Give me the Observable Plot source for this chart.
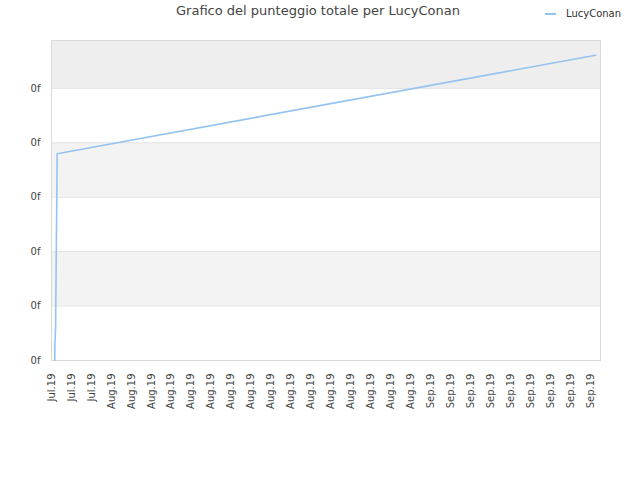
<!DOCTYPE html>
<html>
<head>
<meta charset="utf-8">
<script src="https://cdn.jsdelivr.net/npm/d3@7"></script>
<script src="https://cdn.jsdelivr.net/npm/@observablehq/plot@0.6"></script>
<style>
  html, body { margin: 0; padding: 0; background: #fff; }
  #wrap { position: relative; width: 640px; height: 480px; font-family: "DejaVu Sans", sans-serif; }
  #title { position: absolute; left: 0; width: 636px; top: 3px; text-align: center; font-size: 13px; color: #444; }
  #legend { position: absolute; left: 545px; top: 8px; font-size: 10px; color: #333; display: flex; align-items: center; }
  #legend .sw { width: 11px; height: 0; border-top: 2px solid #95c3f0; margin-right: 10px; }
  svg { position: absolute; left: 0; top: 0; }
</style>
</head>
<body>
<div id="wrap">
  <div id="chart"></div>
  <div id="title">Grafico del punteggio totale per LucyConan</div>
  <div id="legend"><span class="sw"></span><span>LucyConan</span></div>
</div>
<script>
// Series: LucyConan total score (values in y-axis units; axis labels all read "0f")
const times = [
  "2019-07-26T07:50:00Z",
  "2019-07-26T08:10:00Z",
  "2019-07-26T09:50:00Z",
  "2019-07-26T13:40:00Z",
  "2019-09-18T12:00:00Z"
];
const scores = [0, 0.31, 0.6, 3.80, 5.61];

// Y axis ticks and their labels
const yTicks = [0, 1, 2, 3, 4, 5];
const yTickLabels = ["0f", "0f", "0f", "0f", "0f", "0f"];
const yMax = 5.88;

// X axis tick dates and labels
const xTickDates = [
  "2019-07-26","2019-07-28","2019-07-30",
  "2019-08-01","2019-08-03","2019-08-05","2019-08-07","2019-08-09","2019-08-11","2019-08-13","2019-08-15",
  "2019-08-17","2019-08-19","2019-08-21","2019-08-23","2019-08-25","2019-08-27","2019-08-29","2019-08-31",
  "2019-09-02","2019-09-04","2019-09-06","2019-09-08","2019-09-10","2019-09-12","2019-09-14","2019-09-16","2019-09-18"
];
const xTickLabels = [
  "Jul.19","Jul.19","Jul.19",
  "Aug.19","Aug.19","Aug.19","Aug.19","Aug.19","Aug.19","Aug.19","Aug.19",
  "Aug.19","Aug.19","Aug.19","Aug.19","Aug.19","Aug.19","Aug.19","Aug.19",
  "Sep.19","Sep.19","Sep.19","Sep.19","Sep.19","Sep.19","Sep.19","Sep.19","Sep.19"
];
const xDomain = ["2019-07-26T00:00:00Z", "2019-09-19T00:00:00Z"];

const data = times.map((t, i) => ({date: new Date(t), score: scores[i]}));
const xTicks = xTickDates.map(d => new Date(d + "T00:00:00Z"));
const xLabelMap = new Map(xTicks.map((d, i) => [+d, xTickLabels[i]]));
const yLabelMap = new Map(yTicks.map((v, i) => [v, yTickLabels[i]]));

// bands between gridlines
const bandEdges = [...yTicks, yMax];
const bands = bandEdges.slice(0, -1).map((v, i) => ({y1: v, y2: bandEdges[i + 1], i}));
const x0 = new Date(xDomain[0]), x1 = new Date(xDomain[1]);

const chart = Plot.plot({
  width: 640,
  height: 480,
  marginLeft: 51,
  marginRight: 40,
  marginTop: 40,
  marginBottom: 120,
  style: {fontFamily: "DejaVu Sans, sans-serif", fontSize: "10px", color: "#444", background: "transparent"},
  x: {type: "utc", domain: [x0, x1]},
  y: {domain: [0, yMax]},
  marks: [
    Plot.rect(bands.filter(b => b.i % 2 === 1 && b.i < 5), {x1: () => x0, x2: () => x1, y1: "y1", y2: "y2", fill: "#f3f3f3"}),
    Plot.rect(bands.filter(b => b.i === 5), {x1: () => x0, x2: () => x1, y1: "y1", y2: "y2", fill: "#eeeeee"}),
    Plot.ruleY(yTicks.slice(1), {stroke: "#e3e3e3"}),
    Plot.frame({stroke: "#d9d9d9"}),
    Plot.line(data, {x: "date", y: "score", stroke: "#95c3f0", strokeWidth: 1.6}),
    Plot.axisY(yTicks, {tickSize: 0, tickPadding: 11, tickFormat: v => yLabelMap.get(v), label: null, fill: "#444"}),
    Plot.axisX(xTicks, {tickSize: 0, tickPadding: 13, tickRotate: -90, tickFormat: d => xLabelMap.get(+d), label: null, fill: "#444"})
  ]
});
document.getElementById("chart").appendChild(chart);
</script>
</body>
</html>
